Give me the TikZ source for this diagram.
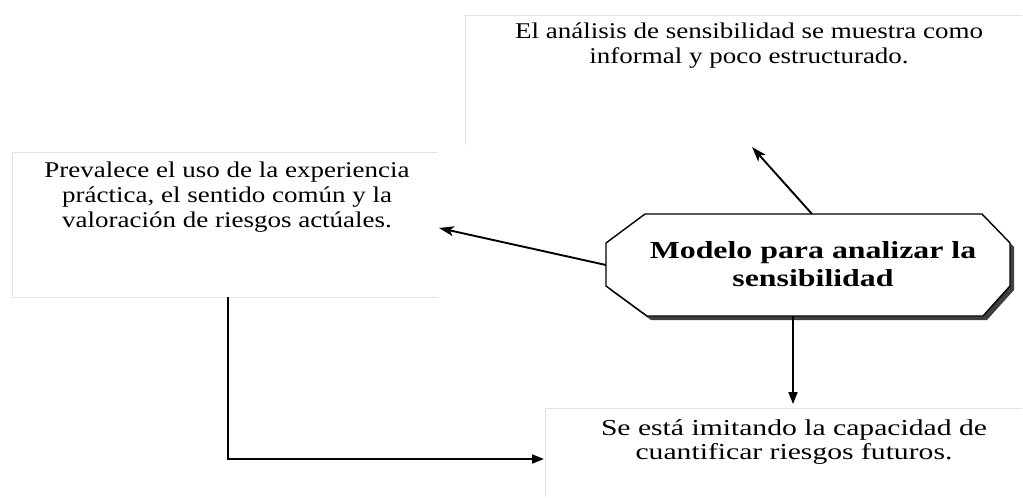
\documentclass[tikz,border=0pt]{standalone}
\usepackage{fontspec}
\setmainfont{Liberation Serif}
\newfontfamily\widefont[FakeStretch=1.2]{Liberation Serif}
\newfontfamily\widerfont[FakeStretch=1.3]{Liberation Serif}
\newfontfamily\widebold[FakeStretch=1.3]{Liberation Serif}
\usetikzlibrary{arrows.meta}
\begin{document}
\begin{tikzpicture}[x=1pt,y=-1pt,
  boxarea/.style={draw=none, inner sep=0pt, anchor=north west},
  faint/.style={draw=gray!22, line width=0.8pt},
  txt/.style={align=center, font=\widefont\fontsize{22.5}{25}\selectfont, inner sep=0pt},
  txtb/.style={align=center, font=\widerfont\fontsize{22.8}{24.5}\selectfont, inner sep=0pt},
  bigtxt/.style={align=center, font=\widebold\bfseries\fontsize{24.5}{28}\selectfont, inner sep=0pt},
  diag/.style={line width=1.9pt, -{Stealth[length=15pt,width=10pt,inset=4pt]}},
  straight/.style={line width=1.9pt, -{Triangle[length=12pt,width=9pt]}},
  octline/.style={line width=1.4pt, fill=white, draw=black},
  shadow/.style={fill=black!75, draw=none}
]
\useasboundingbox (0,0) rectangle (1023,498);
% text boxes
\node[boxarea, minimum width=557pt, minimum height=130pt] (topbox) at (465,15) {};
\node[boxarea, minimum width=426pt, minimum height=145pt] (leftbox) at (12,152) {};
\node[boxarea, minimum width=477pt, minimum height=89pt] (botbox) at (545,408) {};
\draw[faint] (topbox.south west) -- (topbox.north west) -- (topbox.north east);
\draw[faint] (leftbox.north east) -- (leftbox.north west) -- (leftbox.south west) -- (leftbox.south east);
\draw[faint] (botbox.south west) -- (botbox.north west) -- (botbox.north east);
\node[txt] (t1) at (749,46) {El análisis de sensibilidad se muestra como\\informal y poco estructurado.};
\node[txt] (t2) at (227,197) {Prevalece el uso de la experiencia\\práctica, el sentido común y la\\valoración de riesgos actúales.};
\node[txtb] (t3) at (794,442) {Se está imitando la capacidad de\\cuantificar riesgos futuros.};
% octagon
\coordinate (o1) at (645,214);
\coordinate (o2) at (982,214);
\coordinate (o3) at (1010,243);
\coordinate (o4) at (1010,286);
\coordinate (o5) at (983,316);
\coordinate (o6) at (647,316);
\coordinate (o7) at (606,286);
\coordinate (o8) at (606,243);
\fill[shadow] ([shift={(4,4)}]o1) -- ([shift={(4,4)}]o2) -- ([shift={(4,4)}]o3) -- ([shift={(4,4)}]o4) -- ([shift={(4,4)}]o5) -- ([shift={(4,4)}]o6) -- ([shift={(4,4)}]o7) -- ([shift={(4,4)}]o8) -- cycle;
\draw[octline] (o1) -- (o2) -- (o3) -- (o4) -- (o5) -- (o6) -- (o7) -- (o8) -- cycle;
\node[bigtxt] (oct) at (813,264) {Modelo para analizar la\\sensibilidad};
% connectors
\coordinate (ctop) at (812,214);
\coordinate (cleft) at (606,265);
\coordinate (cbot) at (793,316);
\coordinate (etop) at (752,147);
\coordinate (eleft) at (439,228);
\coordinate (ebot) at (793,404);
\coordinate (lbout) at (228,297);
\coordinate (ebox) at (544,459);
\draw[diag] (ctop) -- (etop);
\draw[diag] (cleft) -- (eleft);
\draw[straight] (cbot) -- (ebot);
\draw[straight] (lbout) |- (ebox);
\end{tikzpicture}
\end{document}
